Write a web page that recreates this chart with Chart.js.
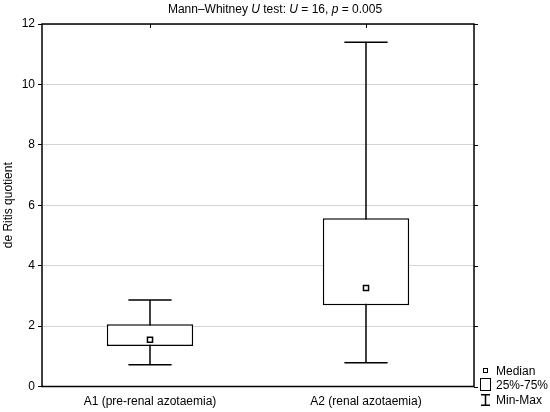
<!DOCTYPE html>
<html>
<head>
<meta charset="utf-8">
<script src="https://cdn.jsdelivr.net/npm/chart.js@4.4.1/dist/chart.umd.min.js"></script>
<style>
  body { margin: 0; background: #fff; font-family: "Liberation Sans", Arial, sans-serif; }
  #wrap { position: relative; width: 550px; height: 412px; }
  #title { position: absolute; top: 2px; left: 0; width: 550px; text-align: center; font-size: 12px; color: #000; }
  .leg { position: absolute; left: 479px; font-size: 12px; color: #000; height: 14px; line-height: 14px; }
  .leg span { position: absolute; left: 17px; top: 0; white-space: nowrap; }
  .ico-med { position: absolute; left: 4px; top: 4px; width: 3px; height: 3px; border: 1.5px solid #000; }
  .ico-box { position: absolute; left: 1px; top: 0; width: 9px; height: 11px; border: 1.5px solid #000; }
  .ico-wh { position: absolute; left: 1px; top: 1px; width: 11px; height: 12px; }
</style>
</head>
<body>
<div id="wrap">
  <canvas id="chart" width="550" height="412"></canvas>
  <div id="title">Mann–Whitney <i>U</i> test: <i>U</i> = 16, <i>p</i> = 0.005</div>
  <div class="leg" style="top:364px"><div class="ico-med"></div><span>Median</span></div>
  <div class="leg" style="top:378px"><div class="ico-box"></div><span>25%-75%</span></div>
  <div class="leg" style="top:393px">
    <svg class="ico-wh" width="11" height="12"><path d="M1 0.75H10M5.5 0.75V11.25M1 11.25H10" stroke="#000" stroke-width="1.5" fill="none"/></svg>
    <span>Min-Max</span>
  </div>
</div>
<script>
const categories = ["A1 (pre-renal azotaemia)", "A2 (renal azotaemia)"];
const mins    = [0.72, 0.79];
const q1      = [1.34, 2.69];
const medians = [1.55, 3.26];
const q3      = [2.06, 5.57];
const maxs    = [2.86, 11.40];
const yTicks  = [0, 2, 4, 6, 8, 10, 12];

const FONT = { family: "'Liberation Sans', Arial, sans-serif", size: 12 };

// whiskers + caps, drawn under the boxes
const whiskers = {
  id: "whiskers",
  beforeDatasetsDraw(chart) {
    const { ctx, scales: { x, y } } = chart;
    const bars = chart.getDatasetMeta(0).data;
    ctx.save();
    ctx.strokeStyle = "#000";
    ctx.lineWidth = 1.5;
    categories.forEach((c, i) => {
      const cx = x.getPixelForValue(i);
      const half = bars[i].width / 4;
      const yMin = y.getPixelForValue(mins[i]), yMax = y.getPixelForValue(maxs[i]);
      ctx.beginPath();
      ctx.moveTo(cx, yMin); ctx.lineTo(cx, yMax);
      ctx.moveTo(cx - half, yMin); ctx.lineTo(cx + half, yMin);
      ctx.moveTo(cx - half, yMax); ctx.lineTo(cx + half, yMax);
      ctx.stroke();
    });
    ctx.restore();
  }
};

// full frame with top / right ticks
const frame = {
  id: "frame",
  afterDatasetsDraw(chart) {
    const { ctx, chartArea: a, scales: { x, y } } = chart;
    ctx.save();
    ctx.strokeStyle = "#000";
    ctx.lineWidth = 1.5;
    ctx.strokeRect(a.left, a.top, a.right - a.left, a.bottom - a.top);
    ctx.lineWidth = 1;
    ctx.beginPath();
    categories.forEach((c, i) => {
      const px = Math.round(x.getPixelForValue(i)) + 0.5;
      ctx.moveTo(px, a.top); ctx.lineTo(px, a.top + 4);
    });
    yTicks.forEach(v => {
      const py = Math.round(y.getPixelForValue(v)) + 0.5;
      ctx.moveTo(a.right, py); ctx.lineTo(a.right + 4, py);
    });
    ctx.stroke();
    ctx.restore();
  }
};

new Chart(document.getElementById("chart"), {
  type: "bar",
  data: {
    labels: categories,
    datasets: [
      {
        label: "25%-75%",
        data: q1.map((v, i) => [v, q3[i]]),
        backgroundColor: "#fff",
        borderColor: "#000",
        borderWidth: 1.5,
        borderSkipped: false,
        barPercentage: 0.4,
        categoryPercentage: 1,
        order: 1
      },
      {
        type: "line",
        label: "Median",
        data: medians,
        showLine: false,
        pointStyle: "rect",
        pointRadius: 3.6,
        pointBackgroundColor: "#fff",
        pointBorderColor: "#000",
        pointBorderWidth: 1.5,
        order: 0
      }
    ]
  },
  options: {
    responsive: false,
    animation: false,
    layout: { padding: { top: 24, right: 76, left: 0, bottom: 0 } },
    plugins: { legend: { display: false }, tooltip: { enabled: false }, title: { display: false } },
    scales: {
      x: {
        grid: { display: false },
        border: { display: false },
        ticks: { color: "#000", font: FONT, padding: 0, maxRotation: 0 },
        afterFit: s => { s.height = 25.5; }
      },
      y: {
        min: 0, max: 12,
        afterBuildTicks: s => { s.ticks = yTicks.map(v => ({ value: v })); },
        grid: { color: "#d4d4d4", tickColor: "#000", tickLength: 4, lineWidth: 1 },
        border: { display: false },
        ticks: { color: "#000", font: FONT, padding: 3 },
        title: { display: true, text: "de Ritis quotient", color: "#000", font: FONT, padding: 1 },
        afterFit: s => { s.width = 42; }
      }
    }
  },
  plugins: [whiskers, frame]
});
</script>
</body>
</html>
